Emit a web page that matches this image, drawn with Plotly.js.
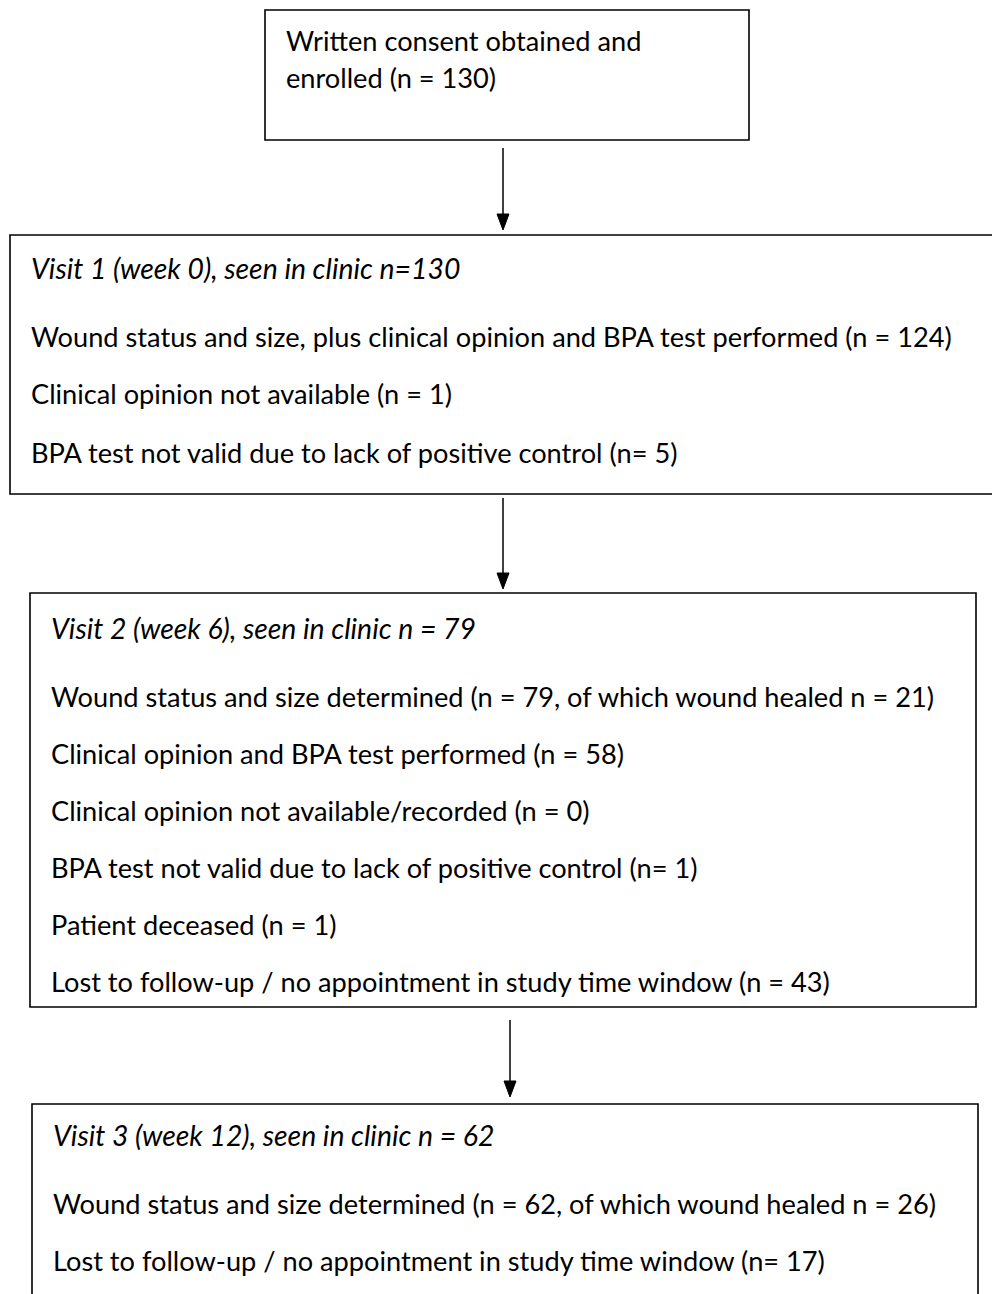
<!DOCTYPE html>
<html>
<head>
<meta charset="utf-8">
<script src="https://cdn.plot.ly/plotly-3.0.1.min.js"></script>
<style>html,body{margin:0;padding:0;background:#fff;}#chart{width:992px;height:1294px;}</style>
</head>
<body>
<div id="chart"></div>
<script>
// ---- Flowchart content ----
var box1Lines = ["Written consent obtained and", "enrolled (n = 130)"];
var box2Title = "Visit 1 (week 0), seen in clinic n=130";
var box2Lines = [
  "Wound status and size, plus clinical opinion and BPA test performed (n = 124)",
  "Clinical opinion not available (n = 1)",
  "BPA test not valid due to lack of positive control (n= 5)"
];
var box3Title = "Visit 2 (week 6), seen in clinic n = 79";
var box3Lines = [
  "Wound status and size determined (n = 79, of which wound healed n = 21)",
  "Clinical opinion and BPA test performed (n = 58)",
  "Clinical opinion not available/recorded (n = 0)",
  "BPA test not valid due to lack of positive control (n= 1)",
  "Patient deceased (n = 1)",
  "Lost to follow-up / no appointment in study time window (n = 43)"
];
var box4Title = "Visit 3 (week 12), seen in clinic n = 62";
var box4Lines = [
  "Wound status and size determined (n = 62, of which wound healed n = 26)",
  "Lost to follow-up / no appointment in study time window (n= 17)"
];

// ---- Layout geometry (pixels, y downward) ----
var W = 992, H = 1294;
var FONT = "Lato, 'Open Sans', sans-serif";
var FS = 27.2, FS_IT = 28.4;

var boxes = [
  {x0: 265, x1: 749, y0: 10, y1: 140, tx: 284, title: null, lines: box1Lines, ty: [40, 77]},
  {x0: 10, x1: 1010, y0: 235, y1: 494, tx: 29, title: box2Title, lines: box2Lines, ty: [268, 336, 393, 452]},
  {x0: 30, x1: 976, y0: 593, y1: 1007, tx: 49, title: box3Title, lines: box3Lines, ty: [628, 696, 753, 810, 867, 924, 981]},
  {x0: 32, x1: 978, y0: 1104, y1: 1320, tx: 51, title: box4Title, lines: box4Lines, ty: [1135, 1203, 1260]}
];
var arrows = [
  {x: 503, y0: 148, y1: 230},
  {x: 503, y0: 498, y1: 589},
  {x: 510, y0: 1020, y1: 1097}
];

var shapes = [];
var annotations = [];
boxes.forEach(function (b) {
  shapes.push({type: "rect", xref: "x", yref: "y", x0: b.x0, x1: b.x1, y0: b.y0, y1: b.y1,
    line: {color: "#000", width: 1.6}, fillcolor: "rgba(0,0,0,0)"});
  var texts = [];
  if (b.title) texts.push({t: b.title, italic: true});
  b.lines.forEach(function (l) { texts.push({t: l, italic: false}); });
  texts.forEach(function (t, i) {
    annotations.push({xref: "x", yref: "y", x: b.tx, y: b.ty[i], xanchor: "left", yanchor: "middle",
      text: t.t, showarrow: false,
      font: {family: FONT, size: t.italic ? FS_IT : FS, color: "#000", style: t.italic ? "italic" : "normal"}});
  });
});
var HEAD_H = 16, HEAD_W = 6;
arrows.forEach(function (a) {
  shapes.push({type: "line", xref: "x", yref: "y", x0: a.x, x1: a.x, y0: a.y0, y1: a.y1 - HEAD_H + 2,
    line: {color: "#000", width: 1.5}});
  shapes.push({type: "path", xref: "x", yref: "y",
    path: "M " + (a.x - HEAD_W) + "," + (a.y1 - HEAD_H) + " L " + (a.x + HEAD_W) + "," + (a.y1 - HEAD_H) +
          " L " + a.x + "," + a.y1 + " Z",
    fillcolor: "#000", line: {color: "#000", width: 1}});
});

var layout = {
  width: W, height: H,
  margin: {l: 0, r: 0, t: 0, b: 0},
  paper_bgcolor: "#fff", plot_bgcolor: "#fff",
  xaxis: {range: [0, W], visible: false, fixedrange: true},
  yaxis: {range: [H, 0], visible: false, fixedrange: true},
  showlegend: false,
  shapes: shapes,
  annotations: annotations
};
Plotly.newPlot("chart", [], layout, {staticPlot: true, displayModeBar: false});
</script>
</body>
</html>
